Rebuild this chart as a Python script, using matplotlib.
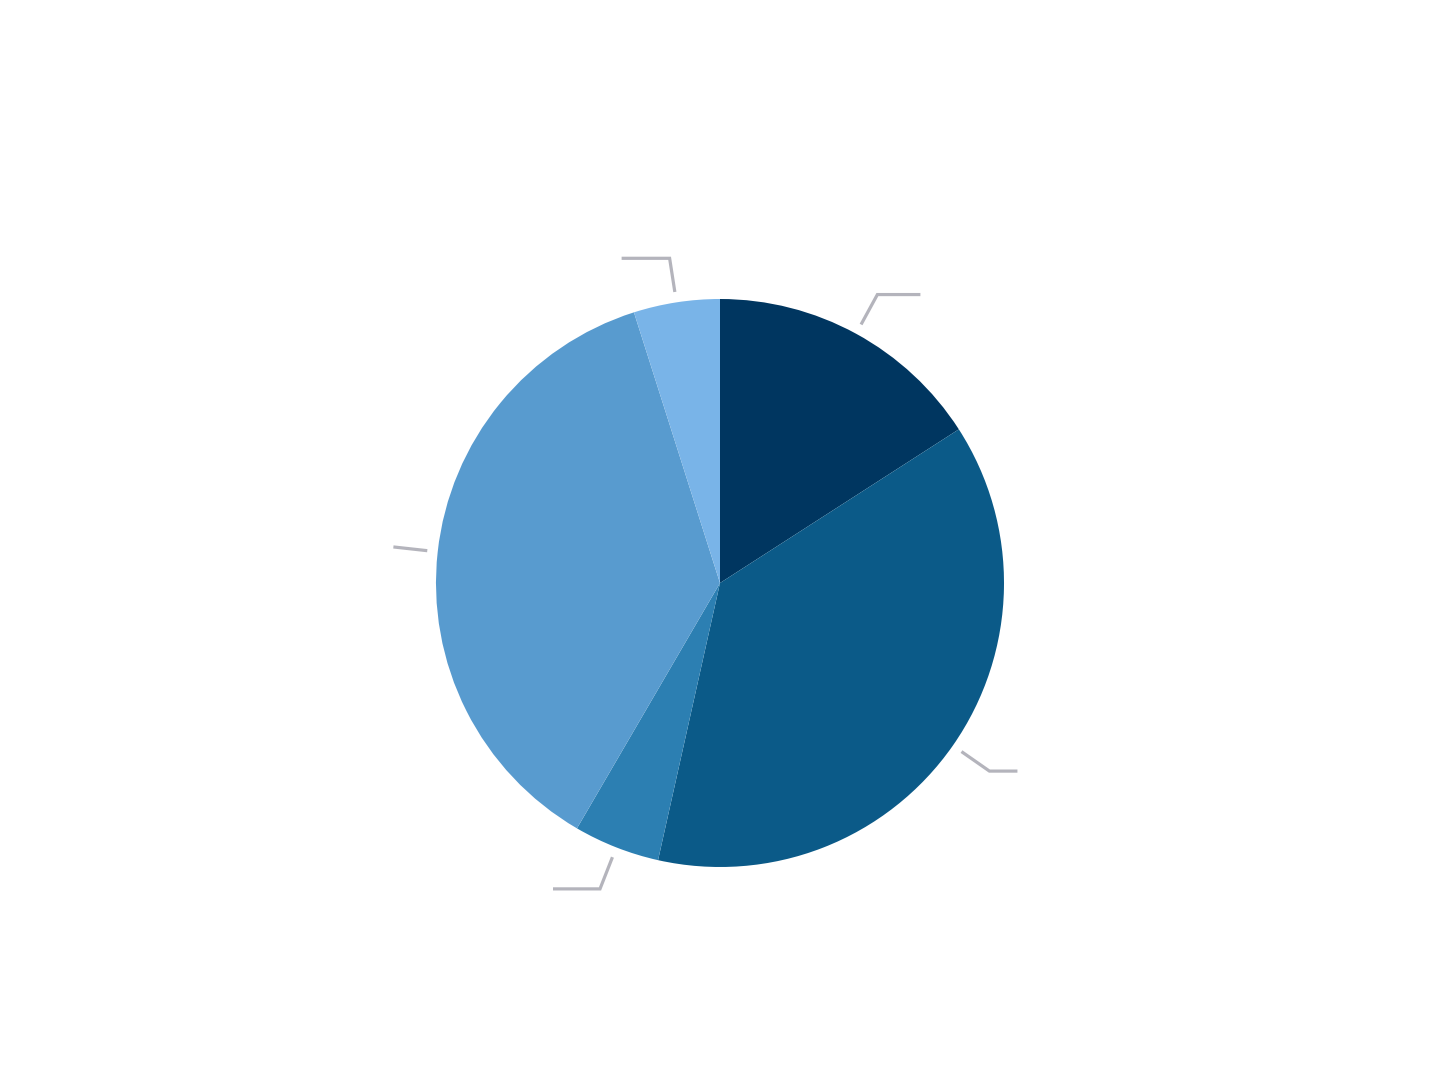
import numpy as np
import matplotlib.pyplot as plt

shares = [15.9, 37.6, 4.9, 36.7, 4.9]
colors = ['#003660', '#0b5a88', '#2c7fb2', '#589bcf', '#79b4e8']
tail_px = [43, 28, 47, 0, 48]  # length of horizontal part of each leader

r_px = 284.0
cx, cy = 720, 583

fig = plt.figure(figsize=(14.4, 10.8), dpi=100)
ax = fig.add_axes([0, 0, 1, 1])

wedges, _ = ax.pie(shares, colors=colors, startangle=90, counterclock=False,
                   radius=1, center=(0, 0), wedgeprops=dict(linewidth=0))

ax.set_xlim(-cx / r_px, (1440 - cx) / r_px)
ax.set_ylim(-(1080 - cy) / r_px, cy / r_px)
ax.set_aspect('equal')
ax.axis('off')

# leader lines
for w, tail in zip(wedges, tail_px):
    ang = np.deg2rad((w.theta1 + w.theta2) / 2)
    x0, y0 = 1.037 * np.cos(ang), 1.037 * np.sin(ang)
    x1, y1 = 1.157 * np.cos(ang), 1.157 * np.sin(ang)
    sgn = 1 if np.cos(ang) >= 0 else -1
    x2 = x1 + sgn * tail / r_px
    ax.plot([x0, x1, x2], [y0, y1, y1], color='#b4b4bc', lw=2.3,
            solid_joinstyle='miter', solid_capstyle='butt')

fig.savefig('out.png', dpi=100)
